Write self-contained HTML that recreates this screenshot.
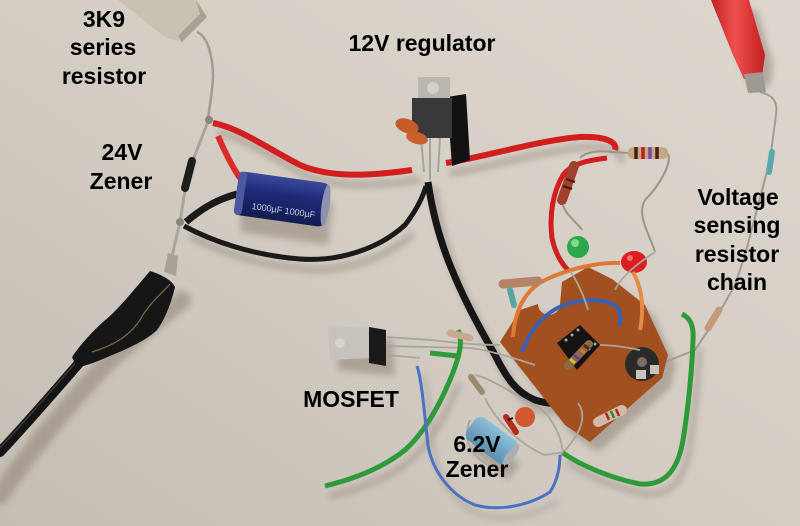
<!DOCTYPE html>
<html><head><meta charset="utf-8"><style>
html,body{margin:0;padding:0;background:#d4cec6;}
svg{display:block}
text{font-family:"Liberation Sans",Arial,sans-serif;font-weight:bold;font-size:23px;fill:#000;text-anchor:middle}
</style></head><body>
<svg width="800" height="526" viewBox="0 0 800 526" xmlns="http://www.w3.org/2000/svg">
<defs>
<linearGradient id="bg" x1="1" y1="0" x2="0" y2="1">
<stop offset="0" stop-color="#ddd7cf"/>
<stop offset="0.5" stop-color="#d3cdc4"/>
<stop offset="1" stop-color="#c3bdb3"/>
</linearGradient>
<filter id="bl" x="-20%" y="-20%" width="140%" height="140%"><feGaussianBlur stdDeviation="3.5"/></filter>
<linearGradient id="cap" x1="0" y1="0" x2="0" y2="1">
<stop offset="0" stop-color="#3a4a9a"/><stop offset="0.4" stop-color="#1e2a78"/><stop offset="1" stop-color="#141c50"/>
</linearGradient>
<linearGradient id="bcap" x1="0" y1="0" x2="0" y2="1">
<stop offset="0" stop-color="#8cc0da"/><stop offset="1" stop-color="#5a90b0"/>
</linearGradient>
<linearGradient id="redclip" x1="0" y1="0" x2="1" y2="0">
<stop offset="0" stop-color="#c02020"/><stop offset="0.45" stop-color="#ee5050"/><stop offset="1" stop-color="#c41e1e"/>
</linearGradient>
</defs>
<rect width="800" height="526" fill="url(#bg)"/>

<!-- shadows -->
<g filter="url(#bl)" opacity="0.5" fill="none" stroke="#8a7c70" stroke-linecap="round">
<path d="M182,300 L110,360 C80,390 30,450 0,495" stroke-width="18"/>
<path d="M220,133 C246,138 276,160 306,175 C336,188 376,186 418,180" stroke-width="6"/>
<path d="M452,173 C486,168 546,150 586,147 C611,146 624,152 621,160" stroke-width="6"/>
<path d="M192,237 C216,250 256,265 306,269 C346,272 386,258 411,235" stroke-width="6"/>
<path d="M434,190 C438,220 446,250 456,275 C468,305 481,330 501,365 C511,385 521,402 541,410 L584,413" stroke-width="7"/>
<path d="M331,496 C356,490 386,480 411,460 C431,442 446,415 458,385" stroke-width="5"/>
<path d="M569,463 C586,475 616,488 646,494 C671,496 684,480 689,450 C694,420 698,380 699,350" stroke-width="5"/>
<path d="M423,376 C428,390 431,430 434,455 C438,480 456,505 481,515 C506,522 536,515 556,502" stroke-width="3"/>
<polygon points="508,350 530,316 568,312 570,290 596,277 620,289 653,315 676,365 670,388 598,452 573,435" fill="#8a7c70" stroke="none"/>
<path d="M243,190 L333,203 L328,245 L240,232Z" fill="#8a7c70" stroke="none"/>
<path d="M480,433 L520,463 L508,480 L470,450Z" fill="#8a7c70" stroke="none"/>
<path d="M336,335 L394,340 L394,376 L338,370Z" fill="#8a7c70" stroke="none"/>
<path d="M720,10 L757,10 L773,65 L770,86 L752,89 L741,65Z" fill="#8a7c70" stroke="none"/>
</g>

<!-- 3K9 resistor -->
<polygon points="118,0 196,0 207,17 182,42 166,38" fill="#c9c1b2"/>
<polygon points="196,0 207,17 182,42 178,36 200,14" fill="#a9a192"/>
<path d="M197,32 C207,36 213,55 213,77 C212,95 210,105 208,118" fill="none" stroke="#a09a92" stroke-width="2.5"/>

<!-- black cable left -->
<path d="M80,362 C60,385 30,420 0,452" fill="none" stroke="#141414" stroke-width="10" stroke-linecap="round"/>
<path d="M78,360 C58,383 28,418 0,448" fill="none" stroke="#3a3a3a" stroke-width="1.5"/>
<!-- clip boot -->
<path d="M150,271 C160,274 172,280 175,287 C172,300 166,318 157,330 C145,342 120,352 93,363 L77,368 L72,357 C80,345 92,332 103,322 C118,310 132,292 150,271Z" fill="#161616"/>
<path d="M92,352 C115,345 130,335 140,320 C148,305 160,295 170,284" fill="none" stroke="#7a6a48" stroke-width="1.2"/>
<polygon points="168,253 178,256 176,276 164,272" fill="#a8a298"/>

<!-- diode 24V zener wire -->
<path d="M209,119 L193,160 L185,190 L180,222 L172,256" fill="none" stroke="#aaa59c" stroke-width="3"/>
<line x1="192" y1="161" x2="185" y2="188" stroke="#1e1e1e" stroke-width="8" stroke-linecap="round"/>
<circle cx="209" cy="120" r="4" fill="#8a857d"/>
<circle cx="180" cy="222" r="4" fill="#8a857d"/>

<!-- black wires from junction -->
<path d="M184,226 C210,240 250,255 300,259 C340,262 380,248 405,225 C415,212 422,200 426,186" fill="none" stroke="#1a1a1a" stroke-width="5"/>
<path d="M428,182 C432,210 440,240 450,265 C462,295 475,320 495,355 C505,375 515,392 535,400 C550,405 565,404 578,403" fill="none" stroke="#161616" stroke-width="7"/>

<!-- red wires -->
<path d="M213,123 C240,128 270,150 300,165 C330,178 370,176 412,170" fill="none" stroke="#d21e1e" stroke-width="6"/>
<path d="M218,136 C224,150 231,165 240,178" fill="none" stroke="#e02a2a" stroke-width="6"/>
<path d="M446,163 C480,158 540,140 580,137 C605,136 618,142 615,150" fill="none" stroke="#d21e1e" stroke-width="6"/>
<path d="M607,158 C590,160 572,163 563,175 C553,192 549,215 552,238 C555,252 560,262 568,270" fill="none" stroke="#d21e1e" stroke-width="5"/>

<!-- capacitor 1000uF -->
<path d="M186,222 C200,210 215,200 237,194" fill="none" stroke="#1a1a1a" stroke-width="7"/>
<g transform="rotate(8 281 199)">
<rect x="236" y="177" width="92" height="44" rx="7" fill="url(#cap)"/>
<rect x="236" y="177" width="8" height="44" rx="4" fill="#4a5aa0"/>
<ellipse cx="326" cy="199" rx="4" ry="21" fill="#8a92b0"/>
<text x="285" y="213" style="font-size:9px;font-weight:normal;fill:#c8cce0">1000µF 1000µF</text>
</g>

<!-- regulator -->
<polygon points="447,97 466,94 470,160 452,166" fill="#121212"/>
<rect x="418" y="77" width="32" height="23" fill="#bbb7b0"/>
<circle cx="433" cy="88" r="6" fill="#d6d0c8"/>
<rect x="412" y="98" width="40" height="40" fill="#3a393a"/>
<g stroke="#a8a49c" stroke-width="2"><line x1="421" y1="138" x2="424" y2="172"/><line x1="430" y1="138" x2="430" y2="180"/><line x1="440" y1="138" x2="438" y2="172"/></g>
<ellipse cx="407" cy="126" rx="12" ry="7" transform="rotate(20 407 126)" fill="#c55c2c"/>
<ellipse cx="417" cy="138" rx="11" ry="6" transform="rotate(15 417 138)" fill="#c8602e"/>

<!-- resistors right top -->
<path d="M628,153 L612,152 C600,150 585,152 580,158" fill="none" stroke="#9a958c" stroke-width="2"/>
<path d="M667,153 C674,160 660,185 645,200 C636,215 650,235 655,252" fill="none" stroke="#9a958c" stroke-width="2"/>
<rect x="628" y="147" width="40" height="12" rx="5" fill="#c4a884"/>
<g stroke-width="3.5"><line x1="636" y1="147" x2="636" y2="159" stroke="#4a1e12"/><line x1="643" y1="147" x2="643" y2="159" stroke="#c02020"/><line x1="650" y1="147" x2="650" y2="159" stroke="#7a4aa0"/><line x1="657" y1="147" x2="657" y2="159" stroke="#4a1e12"/></g>
<path d="M562,202 C565,215 575,220 582,230" fill="none" stroke="#9a958c" stroke-width="2"/>
<line x1="574" y1="166" x2="562" y2="200" stroke="#a24030" stroke-width="10" stroke-linecap="round"/>
<g stroke="#4a1e12" stroke-width="2.5"><line x1="566" y1="179" x2="575" y2="182"/><line x1="563" y1="186" x2="572" y2="189"/></g>

<!-- LEDs -->
<circle cx="578" cy="247" r="11" fill="#2aa84a"/>
<circle cx="575" cy="243" r="4" fill="#7ade90"/>
<ellipse cx="634" cy="262" rx="13" ry="11" fill="#dc1e1e"/>
<circle cx="630" cy="258" r="3" fill="#f47070"/>

<!-- red clip -->
<polygon points="711,0 749,0 765,55 762,76 744,79 733,55" fill="url(#redclip)"/>
<polygon points="744,74 763,72 766,92 748,93" fill="#9e9a92"/>
<path d="M760,92 C772,95 778,100 776,115 L770,160 L745,255 L735,285 L715,320 L695,350 L665,362" fill="none" stroke="#a19b93" stroke-width="2"/>
<line x1="772" y1="152" x2="769" y2="172" stroke="#5aa8a8" stroke-width="6" stroke-linecap="round"/>
<line x1="719" y1="310" x2="708" y2="328" stroke="#c49a78" stroke-width="7" stroke-linecap="round"/>

<!-- PCB -->
<path d="M500,342 L520,310 L538,304 A11,11 0 0 0 560,304 L562,282 L588,267 L612,279 L645,305 L668,355 L662,378 L590,442 L565,425 Z" fill="#a2501f"/>
<!-- orange wires -->
<path d="M513,337 C515,310 525,290 545,280 C570,268 600,262 620,263" fill="none" stroke="#e07a32" stroke-width="4"/>
<path d="M640,330 C644,310 643,290 633,272" fill="none" stroke="#e68a48" stroke-width="4"/>
<!-- blue wire on board -->
<path d="M522,352 C530,330 545,310 570,303 C590,298 610,300 618,308 C622,315 620,322 620,326" fill="none" stroke="#3a62b4" stroke-width="4"/>
<!-- resistors on board -->
<line x1="503" y1="284" x2="538" y2="281" stroke="#b48464" stroke-width="9" stroke-linecap="round"/>
<line x1="510" y1="290" x2="514" y2="305" stroke="#58a4a0" stroke-width="6" stroke-linecap="round"/>
<!-- IC socket -->
<polygon points="557,343 580,325 600,345 577,370" fill="#141414"/>
<g fill="#a8a49c"><circle cx="566" cy="340" r="1.5"/><circle cx="572" cy="335" r="1.5"/><circle cx="578" cy="330" r="1.5"/><circle cx="583" cy="354" r="1.5"/><circle cx="589" cy="349" r="1.5"/><circle cx="595" cy="344" r="1.5"/></g>
<line x1="568" y1="366" x2="589" y2="344" stroke="#8a6a4a" stroke-width="8" stroke-linecap="round"/>
<g stroke-width="3"><line x1="570" y1="359" x2="575" y2="363" stroke="#d8c020"/><line x1="574" y1="355" x2="579" y2="359" stroke="#6a3aa0"/><line x1="580" y1="349" x2="585" y2="353" stroke="#e07020"/><line x1="584" y1="345" x2="589" y2="349" stroke="#4a2a1a"/></g>
<!-- pot -->
<circle cx="642" cy="364" r="17" fill="#2a2a2a"/>
<circle cx="642" cy="362" r="5" fill="#7a6a62"/>
<rect x="636" y="370" width="10" height="9" fill="#c8c4bc"/>
<rect x="650" y="365" width="9" height="9" fill="#c8c4bc"/>
<!-- bottom resistor -->
<line x1="598" y1="422" x2="622" y2="410" stroke="#d4b8a8" stroke-width="10" stroke-linecap="round"/>
<g stroke-width="2.5"><line x1="606" y1="413" x2="609" y2="420" stroke="#a03020"/><line x1="611" y1="411" x2="614" y2="418" stroke="#2a8a2a"/><line x1="616" y1="409" x2="619" y2="416" stroke="#a03020"/></g>
<!-- silver wires around board -->
<g fill="none" stroke="#aaa59c" stroke-width="1.8">
<path d="M387,337 L430,340 C450,342 470,345 500,345"/>
<path d="M387,346 L470,348 C490,350 520,360 535,365"/>
<path d="M387,355 L420,358"/>
<path d="M475,375 C490,378 510,392 535,405 C548,412 560,430 563,452"/>
<path d="M485,398 C495,420 520,445 545,455 L565,452"/>
<path d="M578,403 C590,420 575,440 560,456"/>
<path d="M600,345 C615,345 630,348 640,350"/>
<path d="M570,271 C580,285 585,300 588,310"/>
<path d="M655,252 C640,262 622,275 615,290"/>
<path d="M470,420 C462,440 470,460 500,470"/>
</g>

<!-- MOSFET -->
<polygon points="328,326 372,328 371,358 330,360" fill="#c7c3bc"/>
<circle cx="340" cy="343" r="5" fill="#d8d2ca"/>
<polygon points="369,327 386,330 386,366 369,363" fill="#1a1a1a"/>

<!-- green wires -->
<path d="M325,486 C350,480 380,470 405,450 C425,432 440,405 452,375 C460,355 463,340 458,330" fill="none" stroke="#2e9a3a" stroke-width="5"/>
<path d="M430,353 L458,356" fill="none" stroke="#2e9a3a" stroke-width="5"/>
<path d="M563,453 C580,465 610,478 640,484 C665,486 678,470 683,440 C688,410 692,370 693,340 C694,325 690,318 682,314" fill="none" stroke="#2e9a3a" stroke-width="5"/>
<line x1="450" y1="333" x2="470" y2="338" stroke="#c8a890" stroke-width="7" stroke-linecap="round"/>
<line x1="471" y1="377" x2="482" y2="392" stroke="#9a8a70" stroke-width="6" stroke-linecap="round"/>

<!-- blue lower wire -->
<path d="M417,366 C422,380 425,420 428,445 C432,470 450,495 475,505 C500,512 530,505 550,492 C558,480 560,465 560,455" fill="none" stroke="#4a72c2" stroke-width="3"/>

<!-- blue capacitor -->
<g transform="rotate(37 491 440)">
<rect x="466" y="426" width="52" height="28" rx="8" fill="url(#bcap)"/>
<ellipse cx="516" cy="440" rx="4" ry="13" fill="#a8b0b4"/>
</g>
<!-- orange ceramic + diode -->
<circle cx="525" cy="417" r="10" fill="#d0582e"/>
<line x1="506" y1="417" x2="516" y2="432" stroke="#b82a1a" stroke-width="6" stroke-linecap="round"/>
<line x1="508" y1="420" x2="513" y2="418" stroke="#111" stroke-width="2"/>

<!-- labels -->
<text x="104" y="27">3K9</text>
<text x="103" y="55">series</text>
<text x="104" y="84">resistor</text>
<text x="422" y="51">12V regulator</text>
<text x="122" y="160">24V</text>
<text x="121" y="189">Zener</text>
<text x="738" y="205">Voltage</text>
<text x="737" y="233">sensing</text>
<text x="737" y="262">resistor</text>
<text x="737" y="290">chain</text>
<text x="351" y="407">MOSFET</text>
<text x="477" y="452">6.2V</text>
<text x="477" y="477">Zener</text>
</svg>
</body></html>
